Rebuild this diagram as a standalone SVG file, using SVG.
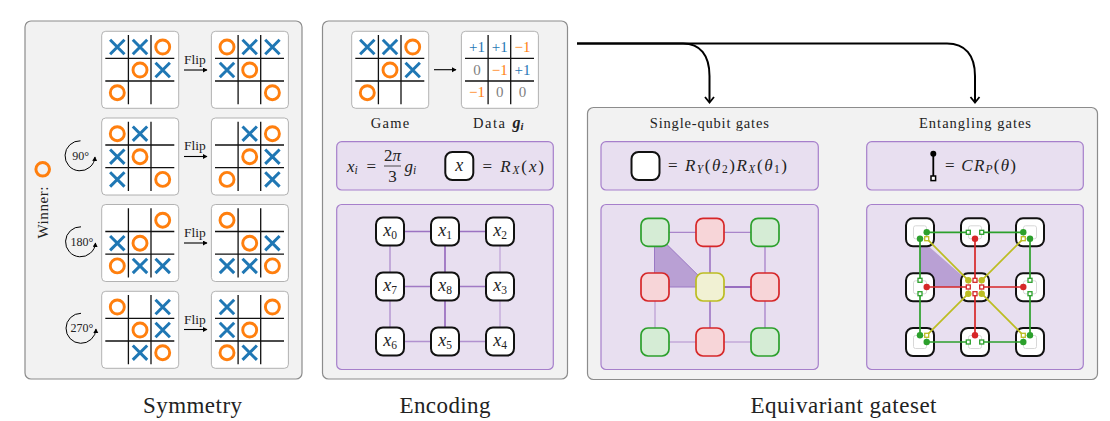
<svg xmlns="http://www.w3.org/2000/svg" width="1110" height="421" viewBox="0 0 1110 421">
<style>
text{font-family:"Liberation Serif","Times New Roman",serif;fill:#222}
.panel{fill:#f2f2f2;stroke:#8c8c8c;stroke-width:1.2}
.sub{fill:#e8dff0;stroke:#a67fcb;stroke-width:1.2}
.card{fill:#fff;stroke:#a0a0a0;stroke-width:.8}
.grid{stroke:#111;stroke-width:1.3;fill:none}
.xm{stroke:#1f77b4;stroke-width:3;fill:none}
.om{stroke:#ff7f0e;stroke-width:2.9;fill:none}
.title{font-size:23px;text-anchor:middle}
.cap{font-size:14.500px;text-anchor:middle}
.flip{font-size:13.500px;text-anchor:middle}
.rot{font-size:12px;text-anchor:middle}
.m{font-size:17px;font-style:italic}
.r{font-style:normal}
.s{font-size:11.500px}
.d{font-size:15px;text-anchor:middle}
.b{fill:#1f77b4}.o{fill:#ff7f0e}.z{fill:#7f7f7f}
.nd{fill:#fff;stroke:#111;stroke-width:2}
.lb{font-size:18px;font-style:italic;text-anchor:middle}
.g{fill:#d5ecd5;stroke:#2ca02c;stroke-width:1.7}
.rd{fill:#f7d5d8;stroke:#d62728;stroke-width:1.7}
.y{fill:#f1f1d3;stroke:#bcbd22;stroke-width:1.7}
.in{fill:#fff;stroke:#d8d8d8;stroke-width:1}
.e{stroke:#9467bd;fill:none}
.tri{fill:#b9a0d4;stroke:#9a78c4;stroke-width:1}
.a{stroke:#000;stroke-width:1.1;fill:none;marker-end:url(#tip)}
.big{stroke:#000;stroke-width:2;fill:none;marker-end:url(#open)}
.rc{stroke:#000;stroke-width:1;fill:none;marker-end:url(#tip)}
.G{stroke:#2ca02c}.R{stroke:#d62728}.Y{stroke:#bcbd22}
.gate{stroke-width:1.700;fill:none}
.dG{fill:#2ca02c}.dR{fill:#d62728}.dY{fill:#bcbd22}
.qG{fill:#fff;stroke:#2ca02c;stroke-width:1.3}.qR{fill:#fff;stroke:#d62728;stroke-width:1.3}.qY{fill:#fff;stroke:#bcbd22;stroke-width:1.3}
</style>
<defs>
<marker id="tip" markerWidth="6" markerHeight="6" refX="4" refY="2.500" orient="auto" markerUnits="userSpaceOnUse"><path d="M0 0L4.500 2.500L0 5z" fill="#000"/></marker>
<marker id="open" markerWidth="14" markerHeight="14" refX="7" refY="6" orient="auto" markerUnits="userSpaceOnUse"><path d="M2 1.500L7.500 6L2 10.500" fill="none" stroke="#000" stroke-width="1.800"/></marker>
<g id="board"><rect class="card" width="77" height="77" rx="4"/><path class="grid" d="M26.700 3.700V73M49.300 3.700V73M3.600 27H72.600M3.600 49.700H72.600"/></g>
<path id="X" class="xm" d="M-7.200-7.200L7.200 7.200M-7.200 7.200L7.200-7.200"/>
<circle id="O" class="om" r="7"/>
<rect id="q" x="-2" y="-2" width="4" height="4"/>
</defs>

<rect class="panel" x="25" y="21" width="277" height="358" rx="6"/>
<rect class="panel" x="322.500" y="21" width="245" height="358" rx="6"/>
<rect class="panel" x="587.500" y="107.500" width="510" height="272" rx="6"/>

<g id="winner"><circle cx="42.700" cy="169.300" r="6.800" fill="none" stroke="#ff7f0e" stroke-width="3"/><text font-size="15" transform="translate(47.500 238.500) rotate(-90)" textLength="52" lengthAdjust="spacing">Winner:</text></g>

<g id="b1l" transform="translate(101.700 31.300)"><use href="#board"/><use href="#X" x="15.600" y="15.700"/><use href="#X" x="38.300" y="15.700"/><use href="#O" x="61" y="15.700"/><use href="#O" x="38.300" y="38.700"/><use href="#X" x="61" y="38.700"/><use href="#O" x="15.600" y="61.400"/></g>
<g id="b1r" transform="translate(211.400 31.300)"><use href="#board"/><use href="#O" x="15.600" y="15.700"/><use href="#X" x="38.300" y="15.700"/><use href="#X" x="61" y="15.700"/><use href="#X" x="15.600" y="38.700"/><use href="#O" x="38.300" y="38.700"/><use href="#O" x="61" y="61.400"/></g>
<g id="b2l" transform="translate(101.700 118)"><use href="#board"/><use href="#O" x="15.600" y="15.700"/><use href="#X" x="38.300" y="15.700"/><use href="#X" x="15.600" y="38.700"/><use href="#O" x="38.300" y="38.700"/><use href="#X" x="15.600" y="61.400"/><use href="#O" x="61" y="61.400"/></g>
<g id="b2r" transform="translate(211.400 118)"><use href="#board"/><use href="#X" x="38.300" y="15.700"/><use href="#O" x="61" y="15.700"/><use href="#O" x="38.300" y="38.700"/><use href="#X" x="61" y="38.700"/><use href="#O" x="15.600" y="61.400"/><use href="#X" x="61" y="61.400"/></g>
<g id="b3l" transform="translate(101.700 204.500)"><use href="#board"/><use href="#O" x="61" y="15.700"/><use href="#X" x="15.600" y="38.700"/><use href="#O" x="38.300" y="38.700"/><use href="#O" x="15.600" y="61.400"/><use href="#X" x="38.300" y="61.400"/><use href="#X" x="61" y="61.400"/></g>
<g id="b3r" transform="translate(211.400 204.500)"><use href="#board"/><use href="#O" x="15.600" y="15.700"/><use href="#O" x="38.300" y="38.700"/><use href="#X" x="61" y="38.700"/><use href="#X" x="15.600" y="61.400"/><use href="#X" x="38.300" y="61.400"/><use href="#O" x="61" y="61.400"/></g>
<g id="b4l" transform="translate(101.700 291.300)"><use href="#board"/><use href="#O" x="15.600" y="15.700"/><use href="#X" x="61" y="15.700"/><use href="#O" x="38.300" y="38.700"/><use href="#X" x="61" y="38.700"/><use href="#X" x="38.300" y="61.400"/><use href="#O" x="61" y="61.400"/></g>
<g id="b4r" transform="translate(211.400 291.300)"><use href="#board"/><use href="#X" x="15.600" y="15.700"/><use href="#O" x="61" y="15.700"/><use href="#X" x="15.600" y="38.700"/><use href="#O" x="38.300" y="38.700"/><use href="#O" x="15.600" y="61.400"/><use href="#X" x="38.300" y="61.400"/></g>

<g id="flip-labels">
<text class="flip" x="195" y="63.500">Flip</text>
<text class="flip" x="195" y="150">Flip</text>
<text class="flip" x="195" y="236.500">Flip</text>
<text class="flip" x="195" y="323.500">Flip</text>
</g>
<g id="rotations">
<text class="rot" x="80.700" y="160">90°</text>
<text class="rot" x="82" y="246">180°</text>
<text class="rot" x="82" y="332">270°</text>
</g>

<g id="game"><g transform="translate(351.700 31.300)"><use href="#board"/><use href="#X" x="15.600" y="15.700"/><use href="#X" x="38.300" y="15.700"/><use href="#O" x="61" y="15.700"/><use href="#O" x="38.300" y="38.700"/><use href="#X" x="61" y="38.700"/><use href="#O" x="15.600" y="61.400"/></g><text class="cap" x="390" y="127.500" textLength="38.500" lengthAdjust="spacing">Game</text></g>
<g id="data"><g transform="translate(461.400 31.300)"><use href="#board"/>
<text class="d b" x="15.600" y="20.500">+1</text><text class="d b" x="38.300" y="20.500">+1</text><text class="d o" x="61" y="20.500">−1</text>
<text class="d z" x="15.600" y="43.500">0</text><text class="d o" x="38.300" y="43.500">−1</text><text class="d b" x="61" y="43.500">+1</text>
<text class="d o" x="15.600" y="66">−1</text><text class="d z" x="38.300" y="66">0</text><text class="d z" x="61" y="66">0</text></g>
<text class="cap" x="489" y="127.500" textLength="32" lengthAdjust="spacing">Data</text><text x="512.500" y="127.500" font-size="16" font-style="italic" font-weight="bold">g<tspan font-size="10.500" dy="2.500">i</tspan></text></g>

<rect class="sub" x="336.700" y="141.700" width="216.600" height="48.300" rx="5"/>
<g id="enc-eq">
<text class="m" x="347" y="171.500">x<tspan class="s" dy="2.500">i</tspan></text>
<text class="m r" x="366.500" y="171.500">=</text>
<text class="m r" x="392.500" y="160.500" text-anchor="middle">2<tspan font-style="italic">π</tspan></text>
<path d="M384 166H401" stroke="#222" stroke-width=".8"/>
<text class="m r" x="392.500" y="182" text-anchor="middle">3</text>
<text class="m" x="404.500" y="171.500">g<tspan class="s" dy="2.500">i</tspan></text>
<rect class="nd" x="445.300" y="152" width="28" height="28" rx="7"/>
<text class="lb" x="459.300" y="170.500">x</text>
<text class="m" x="482.500" y="171.500" textLength="61.500" lengthAdjust="spacing"><tspan class="r">= </tspan>R<tspan class="s" dy="2.500">X</tspan><tspan class="r" dy="-2.500">(</tspan>x<tspan class="r">)</tspan></text>
</g>
<rect class="sub" x="336.700" y="204.500" width="216.600" height="165" rx="5"/>

<rect class="sub" x="601" y="141.700" width="217.300" height="48.300" rx="5"/>
<rect class="sub" x="866.700" y="141.700" width="216.600" height="48.300" rx="5"/>
<rect class="sub" x="601" y="204.500" width="217.300" height="165" rx="5"/>
<rect class="sub" x="866.700" y="204.500" width="216.600" height="165" rx="5"/>

<g id="connectors">
<path class="big" d="M577 43.500H683C700 43.500 709.500 55 709.500 76V102"/>
<path class="big" d="M577 43.500H947C965 43.500 975 55 975 76V102"/>
<path class="a" d="M184 70H207"/><path class="a" d="M184 156.500H207"/><path class="a" d="M184 243H207"/><path class="a" d="M184 329.500H207"/>
<path class="a" d="M434 69.700H456"/>
<path class="rc" d="M80.500 140.800A15 15 0 1 0 95 157"/>
<path class="rc" d="M81 226.800A15 15 0 1 0 95.500 243"/>
<path class="rc" d="M81 313.300A15 15 0 1 0 96 329"/>
<g class="e">
<path stroke-width="1.300" opacity=".9" d="M390 231.500H500"/>
<path stroke-width="1.300" opacity=".85" d="M390 286.500H500"/>
<path stroke-width="1.300" opacity=".65" d="M390 341.500H500"/>
<path stroke-width="1.500" opacity=".6" d="M390 231.500V341.500"/>
<path stroke-width="1.800" opacity=".9" d="M445 231.500V341.500"/>
<path stroke-width="1.500" opacity=".4" d="M500 231.500V341.500"/>
</g>
<g class="e">
<path stroke-width="1.200" opacity=".75" d="M655 232.300H765"/>
<path stroke-width="1.800" opacity=".95" d="M710 287H765"/>
<path stroke-width="1.500" opacity=".45" d="M655 342H765"/>
<path stroke-width="1.500" opacity=".45" d="M655 287V342"/>
<path stroke-width="1.500" opacity=".95" d="M710 232.300V342"/>
<path stroke-width="1.200" opacity=".85" d="M765 232.300V342"/>
</g>
<path class="tri" d="M654.500 232.300V287H710z"/>
<path d="M920 238.700V287H975z" fill="#b9a0d4"/>
</g>

<g id="x0"><rect class="nd" x="376" y="217.500" width="28" height="28" rx="7"/><text class="lb" x="390" y="235.500">x<tspan class="s r" dy="3">0</tspan></text></g>
<g id="x1"><rect class="nd" x="431" y="217.500" width="28" height="28" rx="7"/><text class="lb" x="445" y="235.500">x<tspan class="s r" dy="3">1</tspan></text></g>
<g id="x2"><rect class="nd" x="486" y="217.500" width="28" height="28" rx="7"/><text class="lb" x="500" y="235.500">x<tspan class="s r" dy="3">2</tspan></text></g>
<g id="x7"><rect class="nd" x="376" y="272.500" width="28" height="28" rx="7"/><text class="lb" x="390" y="290.500">x<tspan class="s r" dy="3">7</tspan></text></g>
<g id="x8"><rect class="nd" x="431" y="272.500" width="28" height="28" rx="7"/><text class="lb" x="445" y="290.500">x<tspan class="s r" dy="3">8</tspan></text></g>
<g id="x3"><rect class="nd" x="486" y="272.500" width="28" height="28" rx="7"/><text class="lb" x="500" y="290.500">x<tspan class="s r" dy="3">3</tspan></text></g>
<g id="x6"><rect class="nd" x="376" y="327.500" width="28" height="28" rx="7"/><text class="lb" x="390" y="345.500">x<tspan class="s r" dy="3">6</tspan></text></g>
<g id="x5"><rect class="nd" x="431" y="327.500" width="28" height="28" rx="7"/><text class="lb" x="445" y="345.500">x<tspan class="s r" dy="3">5</tspan></text></g>
<g id="x4"><rect class="nd" x="486" y="327.500" width="28" height="28" rx="7"/><text class="lb" x="500" y="345.500">x<tspan class="s r" dy="3">4</tspan></text></g>

<g id="single-key">
<text class="cap" x="709.300" y="128.300" textLength="119" lengthAdjust="spacing">Single-qubit gates</text>
<rect class="nd" x="631.500" y="152" width="28" height="28" rx="7"/>
<text class="m" x="668" y="170.500" textLength="119" lengthAdjust="spacing"><tspan class="r">= </tspan>R<tspan class="s" dy="2.500">Y</tspan><tspan class="r" dy="-2.500">(</tspan>θ<tspan class="s r" dy="2.500">2</tspan><tspan class="r" dy="-2.500">)</tspan>R<tspan class="s" dy="2.500">X</tspan><tspan class="r" dy="-2.500">(</tspan>θ<tspan class="s r" dy="2.500">1</tspan><tspan class="r" dy="-2.500">)</tspan></text>
</g>
<g id="s0"><rect class="g" x="641" y="218.300" width="28" height="28" rx="7"/></g>
<g id="s1"><rect class="rd" x="696" y="218.300" width="28" height="28" rx="7"/></g>
<g id="s2"><rect class="g" x="751" y="218.300" width="28" height="28" rx="7"/></g>
<g id="s7"><rect class="rd" x="641" y="273" width="28" height="28" rx="7"/></g>
<g id="s8"><rect class="y" x="696" y="273" width="28" height="28" rx="7"/></g>
<g id="s3"><rect class="rd" x="751" y="273" width="28" height="28" rx="7"/></g>
<g id="s6"><rect class="g" x="641" y="328" width="28" height="28" rx="7"/></g>
<g id="s5"><rect class="rd" x="696" y="328" width="28" height="28" rx="7"/></g>
<g id="s4"><rect class="g" x="751" y="328" width="28" height="28" rx="7"/></g>

<g id="ent-key">
<text class="cap" x="975" y="128.300" textLength="112" lengthAdjust="spacing">Entangling gates</text>
<path d="M933.300 153.700V178" stroke="#000" stroke-width="1.800"/>
<circle cx="933.300" cy="153.700" r="3"/>
<rect x="931" y="176" width="4.600" height="4.600" fill="#fff" stroke="#000" stroke-width="1.500"/>
<text class="m" x="945" y="170.500" textLength="71" lengthAdjust="spacing"><tspan class="r">= </tspan>CR<tspan class="s" dy="2.500">P</tspan><tspan class="r" dy="-2.500">(</tspan>θ<tspan class="r">)</tspan></text>
</g>

<g id="e0"><rect class="nd" x="906" y="218.300" width="28" height="28" rx="7"/><rect class="in" x="913.500" y="225.800" width="13" height="13" rx="2"/></g>
<g id="e1"><rect class="nd" x="961" y="218.300" width="28" height="28" rx="7"/><rect class="in" x="968.500" y="225.800" width="13" height="13" rx="2"/></g>
<g id="e2"><rect class="nd" x="1016" y="218.300" width="28" height="28" rx="7"/><rect class="in" x="1023.500" y="225.800" width="13" height="13" rx="2"/></g>
<g id="e7"><rect class="nd" x="906" y="273.300" width="28" height="28" rx="7"/><rect class="in" x="913.500" y="280.800" width="13" height="13" rx="2"/></g>
<g id="e8"><rect class="nd" x="961" y="273.300" width="28" height="28" rx="7"/><rect class="in" x="968.500" y="280.800" width="13" height="13" rx="2"/></g>
<g id="e3"><rect class="nd" x="1016" y="273.300" width="28" height="28" rx="7"/><rect class="in" x="1023.500" y="280.800" width="13" height="13" rx="2"/></g>
<g id="e6"><rect class="nd" x="906" y="328" width="28" height="28" rx="7"/><rect class="in" x="913.500" y="335.500" width="13" height="13" rx="2"/></g>
<g id="e5"><rect class="nd" x="961" y="328" width="28" height="28" rx="7"/><rect class="in" x="968.500" y="335.500" width="13" height="13" rx="2"/></g>
<g id="e4"><rect class="nd" x="1016" y="328" width="28" height="28" rx="7"/><rect class="in" x="1023.500" y="335.500" width="13" height="13" rx="2"/></g>

<g id="gates">
<g class="gate G">
<path d="M926.700 232.300H968.300M981.700 232.300H1023.300M926.700 342H968.300M981.700 342H1023.300M920 238.700V280.300M920 293.700V335.300M1030 238.700V280.300M1030 293.700V335.300"/>
</g>
<g class="gate R">
<path d="M975 238.700V280.300M975 293.700V335.300M926.700 287H968.300M981.700 287H1023.300"/>
</g>
<g class="gate Y">
<path d="M926.700 238.700L968.300 280.300M1023.300 238.700L981.700 280.300M926.700 335.300L968.300 293.700M1023.300 335.300L981.700 293.700"/>
</g>
<g class="dG">
<circle cx="926.700" cy="232.300" r="3.200"/><circle cx="1023.300" cy="232.300" r="3.200"/><circle cx="926.700" cy="342" r="3.200"/><circle cx="1023.300" cy="342" r="3.200"/>
<circle cx="920" cy="238.700" r="3.200"/><circle cx="1030" cy="238.700" r="3.200"/><circle cx="920" cy="335.300" r="3.200"/><circle cx="1030" cy="335.300" r="3.200"/>
</g>
<g class="dR">
<circle cx="975" cy="238.700" r="3.200"/><circle cx="975" cy="335.300" r="3.200"/><circle cx="926.700" cy="287" r="3.200"/><circle cx="1023.300" cy="287" r="3.200"/>
</g>
<g class="dY">
<circle cx="968.300" cy="280.300" r="3.200"/><circle cx="981.700" cy="280.300" r="3.200"/><circle cx="968.300" cy="293.700" r="3.200"/><circle cx="981.700" cy="293.700" r="3.200"/>
</g>
<g class="qG">
<use href="#q" x="968.300" y="232.300"/><use href="#q" x="981.700" y="232.300"/><use href="#q" x="968.300" y="342"/><use href="#q" x="981.700" y="342"/>
<use href="#q" x="920" y="280.300"/><use href="#q" x="920" y="293.700"/><use href="#q" x="1030" y="280.300"/><use href="#q" x="1030" y="293.700"/>
</g>
<g class="qR">
<use href="#q" x="975" y="280.300"/><use href="#q" x="975" y="293.700"/><use href="#q" x="968.300" y="287"/><use href="#q" x="981.700" y="287"/>
</g>
<g class="qY">
<use href="#q" x="926.700" y="238.700"/><use href="#q" x="1023.300" y="238.700"/><use href="#q" x="926.700" y="335.300"/><use href="#q" x="1023.300" y="335.300"/>
</g>
</g>

<text class="title" x="192.500" y="412.500" textLength="99" lengthAdjust="spacing">Symmetry</text>
<text class="title" x="445" y="412.500" textLength="91" lengthAdjust="spacing">Encoding</text>
<text class="title" x="843.500" y="412.500" textLength="186" lengthAdjust="spacing">Equivariant gateset</text>
</svg>
